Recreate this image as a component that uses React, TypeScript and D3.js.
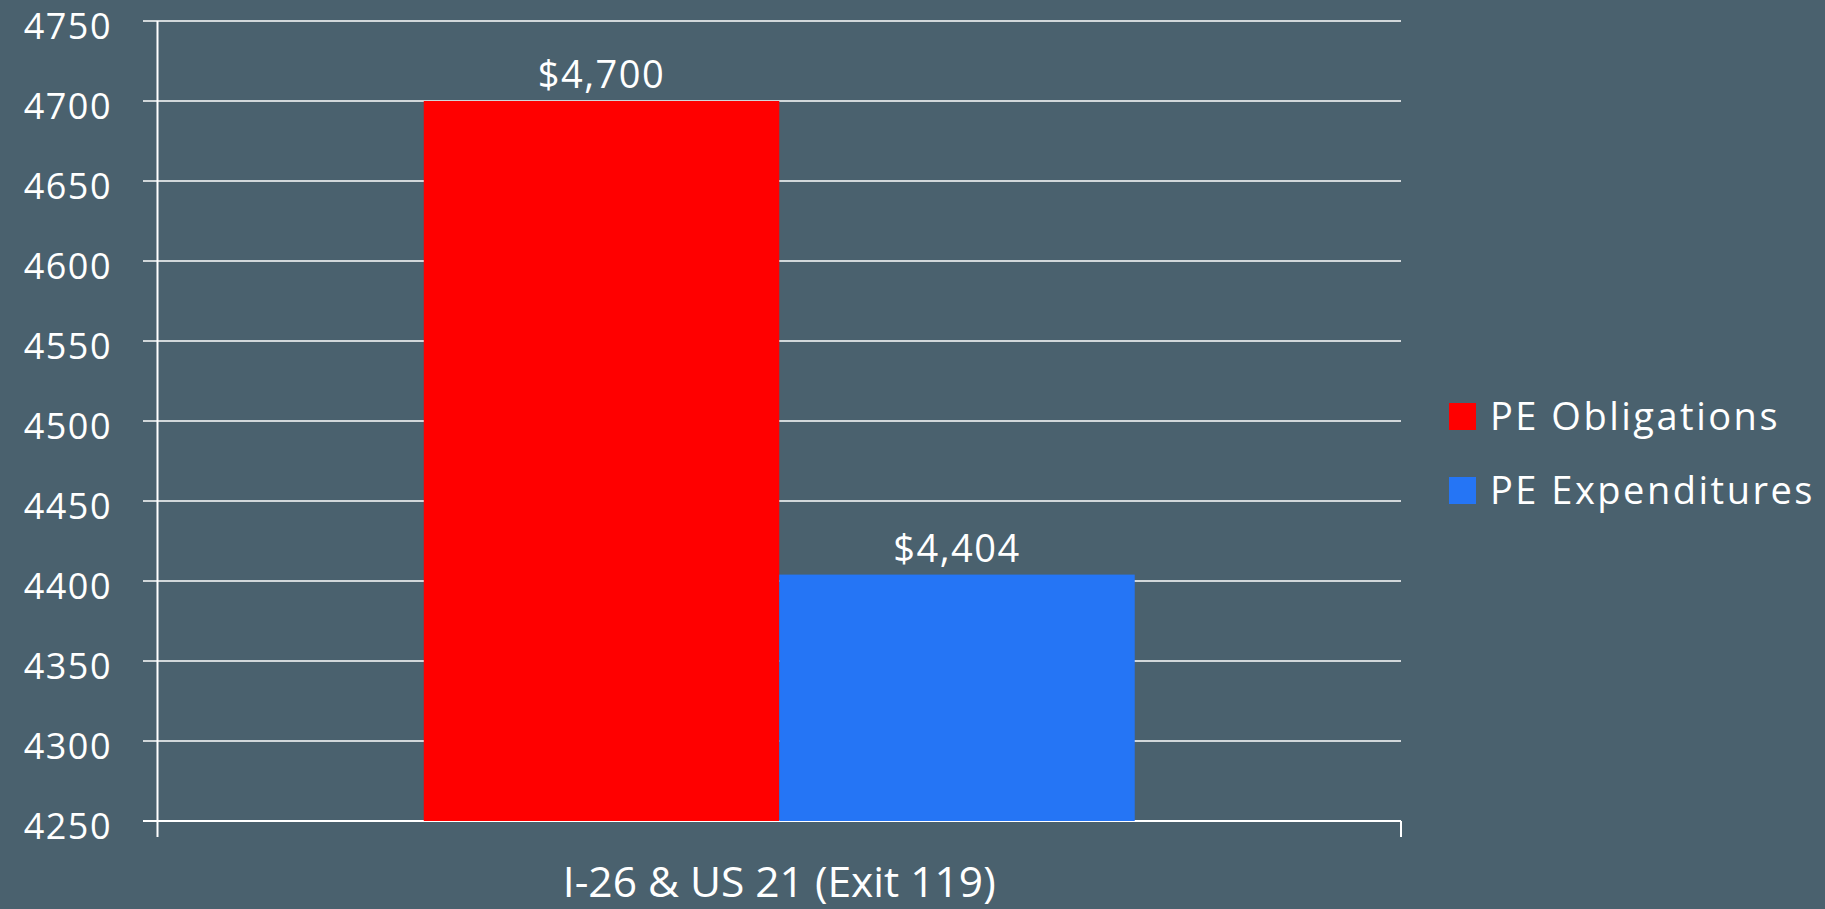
import React from "react";
import * as d3 from "d3";

const categories = ["I-26 & US 21 (Exit 119)"];
const seriesNames = ["PE Obligations", "PE Expenditures"];
const seriesColors = ["#ff0000", "#2575f5"];
const obligations = [4700];
const expenditures = [4404];
const yTicks = [4250, 4300, 4350, 4400, 4450, 4500, 4550, 4600, 4650, 4700, 4750];

const W = 1825;
const H = 909;
const BG = "#4a616e";
const FONT = "'Open Sans', 'DejaVu Sans', sans-serif";

export default function App() {
  const left = 157.5;
  const right = 1401;
  const top = 21;
  const bottom = 821;

  const y = d3.scaleLinear().domain([4250, 4750]).range([bottom, top]);
  const x0 = d3.scaleBand<string>().domain(categories).range([left, right]).paddingOuter(0.3745).paddingInner(0);
  const x1 = d3.scaleBand<string>().domain(seriesNames).range([0, x0.bandwidth()]).padding(0);
  const series = [obligations, expenditures];
  const fmt = d3.format("$,");

  return (
    <svg width={W} height={H} style={{ position: "absolute", left: 0, top: 0, display: "block" }} fontFamily={FONT}>
      <rect x={0} y={0} width={W} height={H} fill={BG} />
      {yTicks.map((t) => (
        <g key={t}>
          <line x1={143} x2={right} y1={y(t)} y2={y(t)} stroke="#ffffff" strokeWidth={t === 4250 ? 2 : 1.5} />
          <text x={112} y={y(t) + 18} textAnchor="end" fill="#ffffff" fontSize={36} letterSpacing={1.5}>
            {t}
          </text>
        </g>
      ))}
      {categories.map((c, ci) => (
        <g key={c}>
          {series.map((vals, si) => {
            const bx = (x0(c) ?? 0) + (x1(seriesNames[si]) ?? 0);
            const bw = x1.bandwidth();
            const v = vals[ci];
            return (
              <g key={si}>
                <rect x={bx} y={y(v)} width={bw} height={y(4250) - y(v)} fill={seriesColors[si]} />
                <text x={bx + bw / 2} y={y(v) - 13} textAnchor="middle" fill="#ffffff" fontSize={38} letterSpacing={1.5}>
                  {fmt(v)}
                </text>
              </g>
            );
          })}
          <text x={(x0(c) ?? 0) + x0.bandwidth() / 2} y={897} textAnchor="middle" fill="#ffffff" fontSize={42.5}>
            {c}
          </text>
        </g>
      ))}
      <line x1={left} x2={left} y1={top} y2={837} stroke="#ffffff" strokeWidth={2} />
      <line x1={right} x2={right} y1={bottom} y2={837} stroke="#ffffff" strokeWidth={2} />
      {seriesNames.map((s, i) => (
        <g key={s}>
          <rect x={1449} y={403 + i * 74} width={27} height={27} fill={seriesColors[i]} />
          <text x={1490} y={430 + i * 74} fill="#ffffff" fontSize={38} letterSpacing={2.5}>
            {s}
          </text>
        </g>
      ))}
    </svg>
  );
}
